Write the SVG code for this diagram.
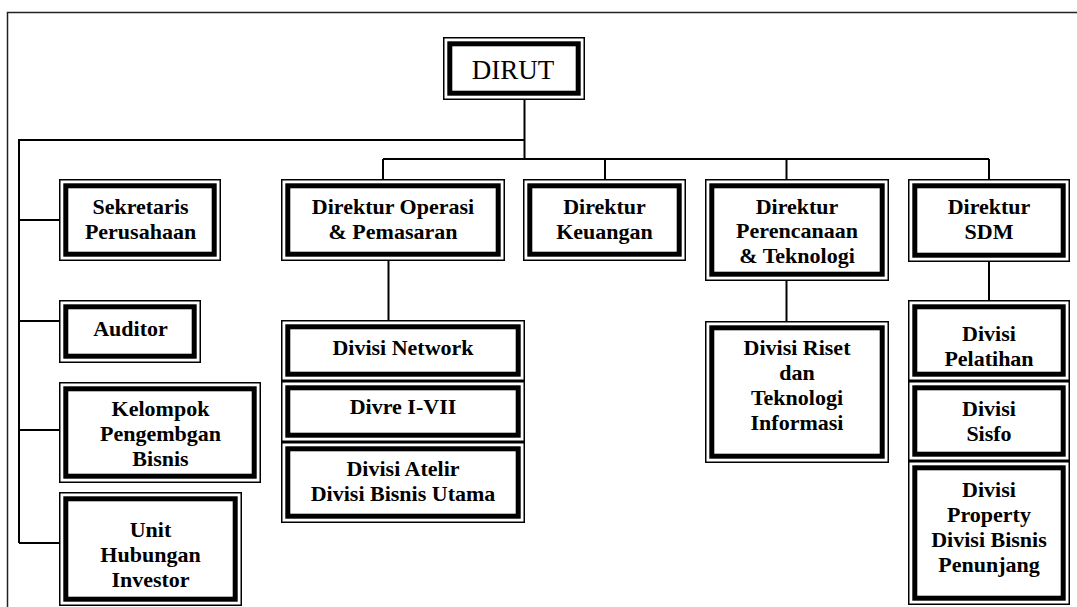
<svg xmlns="http://www.w3.org/2000/svg" width="1077" height="607" viewBox="0 0 1077 607">
<style>
.bg{fill:#fff}
.frame{fill:none;stroke:#222;stroke-width:1.5}
.thin{fill:#fff;stroke:#000;stroke-width:1.5}
.thick{fill:none;stroke:#000;stroke-width:5}
.t{font-family:"Liberation Serif","Times New Roman",serif;font-weight:bold;font-size:22px;text-anchor:middle;fill:#000}
.top{font-family:"Liberation Serif","Times New Roman",serif;font-size:27px;text-anchor:middle;fill:#000}
.conn path{fill:none;stroke:#000;stroke-width:2}
</style>
<rect class="bg" x="0" y="0" width="1077" height="607"/>
<path class="frame" d="M7.5 607 V12.5 H1077"/>
<g id="connectors" class="conn">
<path d="M524.5 100 V159"/>
<path d="M524.5 140 H19 V543"/>
<path d="M19 220 H59"/>
<path d="M19 321 H59"/>
<path d="M19 430 H59"/>
<path d="M19 543 H59"/>
<path d="M383 159 H989"/>
<path d="M383 159 V179"/>
<path d="M605 159 V179"/>
<path d="M786.5 159 V179"/>
<path d="M989 159 V179"/>
<path d="M388.5 261 V320"/>
<path d="M786.5 281 V321"/>
<path d="M989 262 V300"/>
</g>
<g id="dirut">
<rect class="thin" x="443.75" y="37.75" width="140.5" height="61.5"/>
<rect class="thick" x="449.8" y="43.8" width="128.4" height="49.4"/>
<text class="top" x="513" y="78.5">DIRUT</text>
</g>
<g id="sekretaris">
<rect class="thin" x="59.75" y="179.75" width="160.5" height="80.5"/>
<rect class="thick" x="65.8" y="185.8" width="148.4" height="68.4"/>
<text class="t" x="140.5" y="214">Sekretaris</text>
<text class="t" x="140.5" y="239">Perusahaan</text>
</g>
<g id="auditor">
<rect class="thin" x="59.75" y="300.75" width="140.5" height="61.5"/>
<rect class="thick" x="65.8" y="306.8" width="128.4" height="49.4"/>
<text class="t" x="130.5" y="336">Auditor</text>
</g>
<g id="kelompok">
<rect class="thin" x="59.75" y="382.75" width="200.5" height="99.5"/>
<rect class="thick" x="65.8" y="388.8" width="188.4" height="87.4"/>
<text class="t" x="160.5" y="416">Kelompok</text>
<text class="t" x="160.5" y="441">Pengembgan</text>
<text class="t" x="160.5" y="466">Bisnis</text>
</g>
<g id="unit">
<rect class="thin" x="59.75" y="492.75" width="181.5" height="112.5"/>
<rect class="thick" x="65.8" y="498.8" width="169.4" height="100.4"/>
<text class="t" x="150.5" y="537">Unit</text>
<text class="t" x="150.5" y="562">Hubungan</text>
<text class="t" x="150.5" y="587">Investor</text>
</g>
<g id="operasi">
<rect class="thin" x="281.75" y="179.75" width="222.5" height="80.5"/>
<rect class="thick" x="287.8" y="185.8" width="210.4" height="68.4"/>
<text class="t" x="393" y="214">Direktur Operasi</text>
<text class="t" x="393" y="239">&amp; Pemasaran</text>
</g>
<g id="keuangan">
<rect class="thin" x="523.75" y="179.75" width="161.5" height="80.5"/>
<rect class="thick" x="529.8" y="185.8" width="149.4" height="68.4"/>
<text class="t" x="604.5" y="214">Direktur</text>
<text class="t" x="604.5" y="239">Keuangan</text>
</g>
<g id="perencanaan">
<rect class="thin" x="705.75" y="179.75" width="182.5" height="100.5"/>
<rect class="thick" x="711.8" y="185.8" width="170.4" height="88.4"/>
<text class="t" x="797" y="213.5">Direktur</text>
<text class="t" x="797" y="238.3">Perencanaan</text>
<text class="t" x="797" y="263">&amp; Teknologi</text>
</g>
<g id="sdm">
<rect class="thin" x="908.75" y="179.75" width="160.5" height="81.5"/>
<rect class="thick" x="914.8" y="185.8" width="148.4" height="69.4"/>
<text class="t" x="989" y="214">Direktur</text>
<text class="t" x="989" y="239">SDM</text>
</g>
<g id="network">
<rect class="thin" x="281.75" y="320.75" width="242.5" height="59.5"/>
<rect class="thick" x="287.8" y="326.8" width="230.4" height="47.4"/>
<text class="t" x="403" y="355">Divisi Network</text>
</g>
<g id="divre">
<rect class="thin" x="281.75" y="381.75" width="242.5" height="59.5"/>
<rect class="thick" x="287.8" y="387.8" width="230.4" height="47.4"/>
<text class="t" x="403" y="413.5">Divre I-VII</text>
</g>
<g id="atelir">
<rect class="thin" x="281.75" y="442.75" width="242.5" height="79.5"/>
<rect class="thick" x="287.8" y="448.8" width="230.4" height="67.4"/>
<text class="t" x="403" y="476">Divisi Atelir</text>
<text class="t" x="403" y="501">Divisi Bisnis Utama</text>
</g>
<g id="riset">
<rect class="thin" x="705.75" y="321.75" width="182.5" height="140.5"/>
<rect class="thick" x="711.8" y="327.8" width="170.4" height="128.4"/>
<text class="t" x="797" y="355">Divisi Riset</text>
<text class="t" x="797" y="380">dan</text>
<text class="t" x="797" y="405">Teknologi</text>
<text class="t" x="797" y="430">Informasi</text>
</g>
<g id="pelatihan">
<rect class="thin" x="908.75" y="300.75" width="160.5" height="79.5"/>
<rect class="thick" x="914.8" y="306.8" width="148.4" height="67.4"/>
<text class="t" x="989" y="341">Divisi</text>
<text class="t" x="989" y="366">Pelatihan</text>
</g>
<g id="sisfo">
<rect class="thin" x="908.75" y="381.75" width="160.5" height="78.5"/>
<rect class="thick" x="914.8" y="387.8" width="148.4" height="66.4"/>
<text class="t" x="989" y="416">Divisi</text>
<text class="t" x="989" y="441">Sisfo</text>
</g>
<g id="property">
<rect class="thin" x="908.75" y="461.75" width="160.5" height="142.5"/>
<rect class="thick" x="914.8" y="467.8" width="148.4" height="130.4"/>
<text class="t" x="989" y="497">Divisi</text>
<text class="t" x="989" y="522">Property</text>
<text class="t" x="989" y="547">Divisi Bisnis</text>
<text class="t" x="989" y="572">Penunjang</text>
</g>
</svg>
